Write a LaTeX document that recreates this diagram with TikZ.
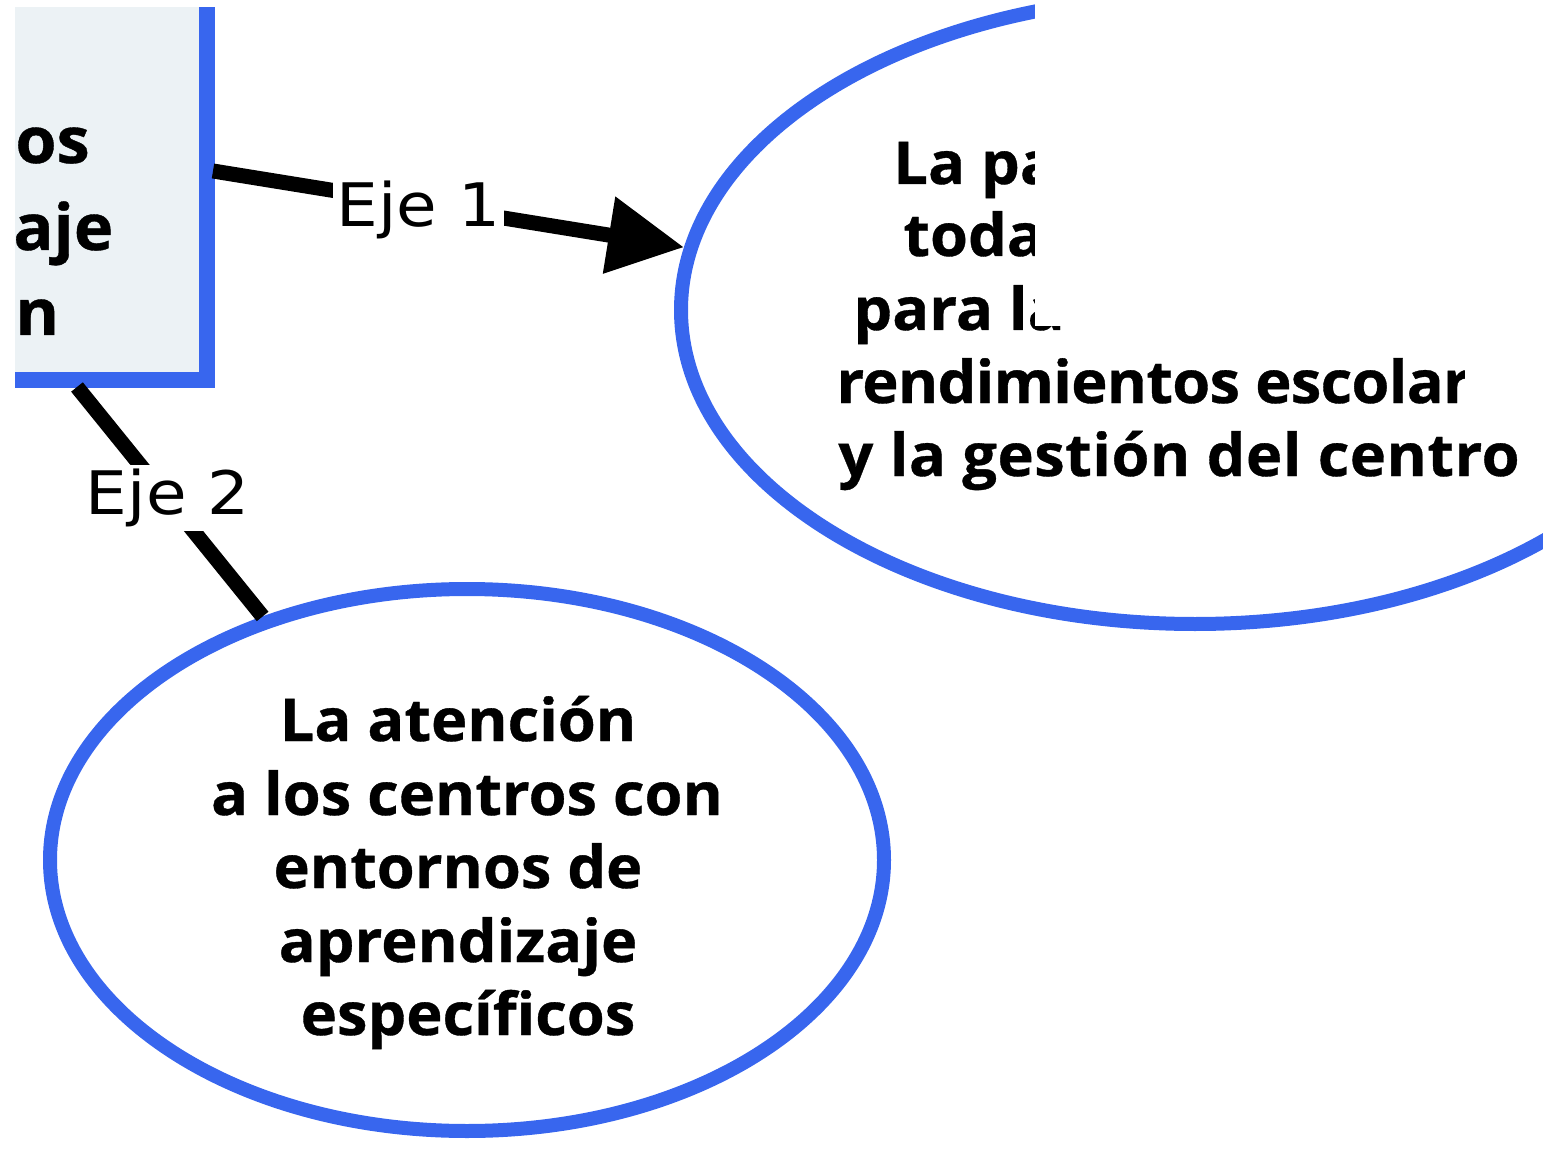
\documentclass[tikz,border=0pt]{standalone}
\usepackage{fontspec}
\usetikzlibrary{arrows.meta,calc,shapes.geometric}
\newfontfamily\bfont{Open Sans}[FakeStretch=1.04,FakeBold=0.6]
\newfontfamily\lfont{DejaVu Sans}[FakeStretch=1.1]
\definecolor{cblue}{RGB}{56,102,238}
\definecolor{cfill}{RGB}{236,242,245}
\begin{document}
\begin{tikzpicture}[x=0.5pt,y=-0.5pt,
  conn/.style={line width=7.5pt,black},
  lbl/.style={font=\lfont\fontsize{30}{36}\selectfont, fill=white, inner sep=2pt},
  btxt/.style={font=\bfont\bfseries\fontsize{29.5}{36}\selectfont, inner sep=0pt},
  boxtxt/.style={font=\bfont\bfseries\fontsize{32}{40}\selectfont, inner sep=0pt},
  oval/.style={ellipse, draw=cblue, line width=7pt, inner sep=0pt}]
\useasboundingbox (0,0) rectangle (1543,1150);
\clip (0,0) rectangle (1543,1150);
% left box (cut by the picture's edge)
\begin{scope}
\clip (15,8) rectangle (1543,1150);
\node[draw=cblue, fill=cfill, line width=8pt, rectangle, inner sep=0pt, outer sep=0pt,
      minimum width=203.5pt, minimum height=290pt] (box) at (3.5,90) {};
\end{scope}
\node[boxtxt, anchor=base west] (bt1) at (15,163) {os};
\node[boxtxt, anchor=base west] (bt2) at (13,250) {aje};
\node[boxtxt, anchor=base west] (bt3) at (15,335) {n};
% ovals
\node[oval, minimum width=514pt, minimum height=314pt] (e1) at (1195,310) {};
\node[oval, minimum width=417pt, minimum height=271pt] (e2) at (467,860) {};
% connectors
\coordinate (s1) at ($(box.south east)+(6,-209)$);
\coordinate (s2) at ($(box.south east)+(-130,7)$);
\draw[conn, -{Triangle[length=38pt,width=37pt]}] (s1) --
  node[lbl, pos=0.436, anchor=base, yshift=-11pt] (l1) {Eje 1} (e1.173);
\draw[conn] (s2) --
  node[lbl, pos=0.489, anchor=base, yshift=-7.5pt] (l2) {Eje 2} (e2.130);
% text of the upper oval (partly hidden)
\node[btxt, anchor=base west] (t1a) at (893,184) {La pa};
\node[btxt, anchor=base west] (t1b) at (903,256) {toda};
\node[btxt, anchor=base west] (t1c) at (853,330) {para la};
\node[btxt, anchor=base west] (t1d) at (836,403) {\addfontfeature{LetterSpace=-1.2}rendimientos escolare};
\node[btxt, anchor=base west] (t1e) at (838,476) {\addfontfeature{LetterSpace=0.8}y la gestión del centro};
\fill[white] (1035,0) rectangle (1543,326);
\fill[white] (1465,326) rectangle (1543,415);
% text of the lower oval
\node[btxt, anchor=base] (t2a) at (458,741) {La atención};
\node[btxt, anchor=base] (t2b) at (467,815) {a los centros con};
\node[btxt, anchor=base] (t2c) at (458,888) {entornos de};
\node[btxt, anchor=base] (t2d) at (458,962) {aprendizaje};
\node[btxt, anchor=base] (t2e) at (468,1035) {específicos};
\end{tikzpicture}
\end{document}
